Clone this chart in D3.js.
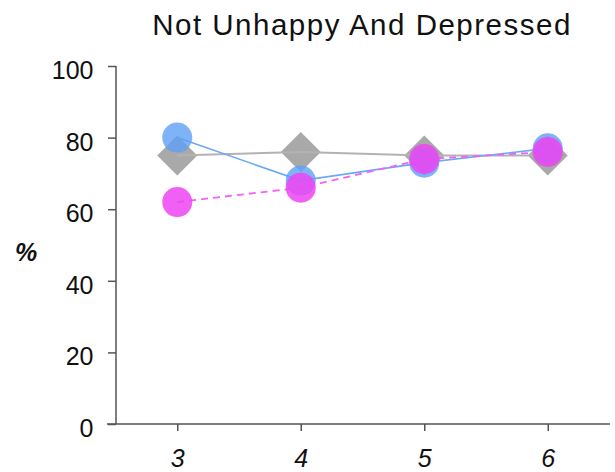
<!DOCTYPE html>
<html>
<head>
<meta charset="utf-8">
<script src="https://cdn.jsdelivr.net/npm/d3@7"></script>
<style>
  body { margin: 0; background: #fff; }
  text { font-family: "Liberation Sans", Arial, Helvetica, sans-serif; }
</style>
</head>
<body>
<div class="viz"></div>
<script>
// chart data
var grades = [3, 4, 5, 6]
var grayValues = [75, 76, 75, 75]
var blueValues = [80, 68, 73, 77]
var pinkValues = [62, 66, 74, 76]
var yTicks = [0, 20, 40, 60, 80, 100]

var width = 615, height = 472

var svg = d3.select(".viz").append("svg")
  .attr("width", width)
  .attr("height", height)

var x = d3.scalePoint().domain(grades).range([115.5, 609.5]).padding(0.5)
var y = d3.scaleLinear().domain([0, 100]).range([424, 66])

// title
svg.append("text")
  .attr("x", 362)
  .attr("y", 34.5)
  .attr("text-anchor", "middle")
  .style("font-size", "29.5px")
  .style("letter-spacing", "1.5px")
  .attr("fill", "#111")
  .text("Not Unhappy And Depressed")

// y axis
var yAxis = svg.append("g")
  .attr("transform", "translate(116,0)")
  .call(d3.axisLeft(y).tickValues(yTicks).tickSize(8).tickPadding(14.5))
yAxis.select(".domain").remove()
yAxis.selectAll("line").attr("stroke", "#555").attr("stroke-width", 1.5)
yAxis.selectAll("text").style("font-size", "25px").attr("dy", "0.5em")
  .attr("fill", "#111").attr("font-family", null)

svg.append("line")
  .attr("x1", 116).attr("x2", 116)
  .attr("y1", y(100)).attr("y2", y(0))
  .attr("stroke", "#555").attr("stroke-width", 1.5)

// x axis
var xAxis = svg.append("g")
  .attr("transform", "translate(0,424)")
  .call(d3.axisBottom(x).tickSize(7).tickPadding(18.5))
xAxis.select(".domain").remove()
xAxis.selectAll("line").attr("stroke", "#555").attr("stroke-width", 1.5)
xAxis.selectAll("text").style("font-size", "25px").style("font-style", "italic")
  .attr("fill", "#111").attr("font-family", null)

svg.append("line")
  .attr("x1", 107).attr("x2", 610)
  .attr("y1", y(0)).attr("y2", y(0))
  .attr("stroke", "#555").attr("stroke-width", 1.5)

// y label
svg.append("text")
  .attr("x", 26)
  .attr("y", 261)
  .attr("text-anchor", "middle")
  .style("font-size", "25px")
  .style("font-style", "italic")
  .style("font-weight", "bold")
  .attr("fill", "#111")
  .text("%")

var line = d3.line()
  .x(function(d, i){ return x(grades[i]) })
  .y(function(d){ return y(d) })

// gray series
svg.append("g").selectAll("path")
  .data(grayValues)
  .enter()
  .append("path")
  .attr("d", d3.symbol().type(d3.symbolSquare).size(800))
  .attr("transform", function(d, i){
    return "translate(" + x(grades[i]) + "," + y(d) + ") rotate(45)"
  })
  .attr("fill", "#a9a9a9")

svg.append("path")
  .datum(grayValues)
  .attr("d", line)
  .attr("fill", "none")
  .attr("stroke", "#b3b3b3")
  .attr("stroke-width", 2)

// blue series
svg.append("path")
  .datum(blueValues)
  .attr("d", line)
  .attr("fill", "none")
  .attr("stroke", "#6aa8f8")
  .attr("stroke-width", 1.6)

svg.append("g").selectAll("circle")
  .data(blueValues)
  .enter()
  .append("circle")
  .attr("cx", function(d, i){ return x(grades[i]) })
  .attr("cy", function(d){ return y(d) })
  .attr("r", 15)
  .attr("fill", "#5ea0f5")
  .attr("fill-opacity", 0.8)

// pink series
svg.append("path")
  .datum(pinkValues)
  .attr("d", line)
  .attr("fill", "none")
  .attr("stroke", "#f064f5")
  .attr("stroke-width", 1.8)
  .attr("stroke-dasharray", "7,5")

svg.append("g").selectAll("circle")
  .data(pinkValues)
  .enter()
  .append("circle")
  .attr("cx", function(d, i){ return x(grades[i]) })
  .attr("cy", function(d){ return y(d) })
  .attr("r", 15)
  .attr("fill", "#ee44f2")
  .attr("fill-opacity", 0.85)
</script>
</body>
</html>
